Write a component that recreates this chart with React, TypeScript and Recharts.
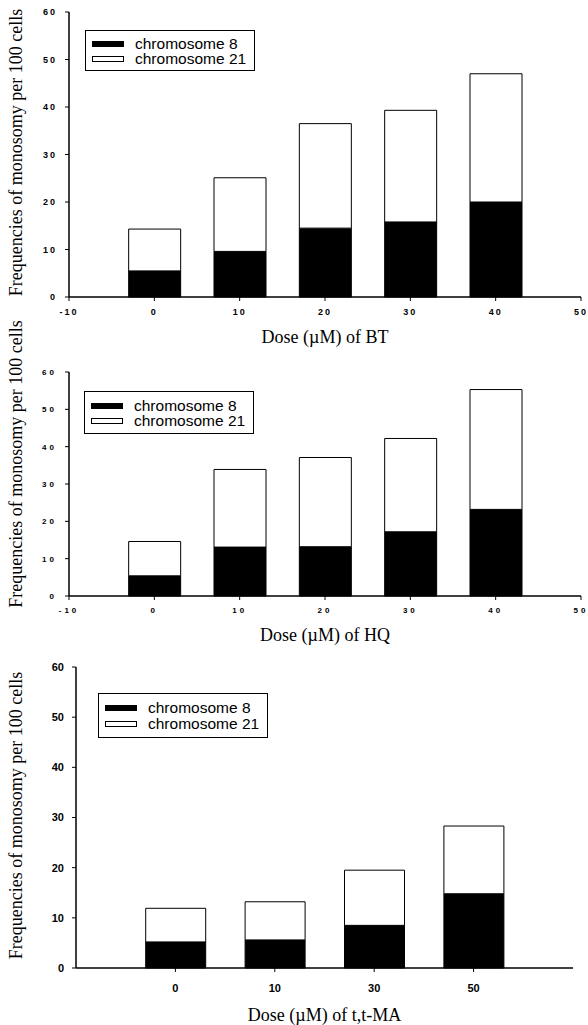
import React from "react";
import { BarChart, Bar, XAxis, YAxis, Legend } from "recharts";

const seriesNames = ["chromosome 8", "chromosome 21"];
const yTicks = [0, 10, 20, 30, 40, 50, 60];
const doseTicks = [-10, 0, 10, 20, 30, 40, 50];

// BT
const btDose = [0, 10, 20, 30, 40];
const btChr8 = [5.5, 9.6, 14.5, 15.8, 20.0];
const btChr21 = [8.8, 15.5, 22.0, 23.5, 27.0];

// HQ
const hqDose = [0, 10, 20, 30, 40];
const hqChr8 = [5.4, 13.1, 13.2, 17.2, 23.2];
const hqChr21 = [9.2, 20.8, 23.9, 25.0, 32.1];

// t,t-MA (categorical doses)
const maDose = ["0", "10", "30", "50"];
const maChr8 = [5.2, 5.6, 8.5, 14.8];
const maChr21 = [6.7, 7.6, 11.0, 13.5];

type Row = { dose: number; chr8: number; chr21: number };

const btData: Row[] = btDose.map((d, i) => ({ dose: d, chr8: btChr8[i], chr21: btChr21[i] }));
const hqData: Row[] = hqDose.map((d, i) => ({ dose: d, chr8: hqChr8[i], chr21: hqChr21[i] }));
// categories sit at 1..n on a 0..n+1 axis
const maData: Row[] = maDose.map((_, i) => ({ dose: i + 1, chr8: maChr8[i], chr21: maChr21[i] }));

const sans = '"Liberation Sans", Arial, sans-serif';
const serif = '"Liberation Serif", "Times New Roman", serif';
const yTitleText = "Frequencies of monosomy per 100 cells";

const legendContent = (lineHeight: number, padTop: number, padBottom: number) => (props: any) => {
  const items = [...(props.payload || [])].sort(
    (a: any, b: any) => seriesNames.indexOf(a.value) - seriesNames.indexOf(b.value)
  );
  return (
    <div
      style={{
        width: 170,
        boxSizing: "border-box",
        border: "1px solid #000",
        background: "#fff",
        padding: `${padTop}px 0 ${padBottom}px 6px`,
        fontFamily: sans,
        fontSize: 15.5,
        lineHeight: `${lineHeight}px`,
        color: "#000",
        textAlign: "left",
      }}
    >
      {items.map((e: any) => (
        <div key={e.value} style={{ display: "flex", alignItems: "center", height: lineHeight }}>
          <span
            style={{
              display: "inline-block",
              width: 32,
              height: 6,
              background: e.color,
              border: "1px solid #000",
              boxSizing: "border-box",
              marginRight: 11,
            }}
          />
          <span>{e.value}</span>
        </div>
      ))}
    </div>
  );
};

// rotated y title, centred on the plot with an optional shift
const yTitle = (shift: number) => (props: any) => {
  const vb = props.viewBox || {};
  const cx = 16;
  const cy = vb.y + vb.height / 2 + shift;
  return (
    <text
      x={cx}
      y={cy}
      transform={`rotate(-90, ${cx}, ${cy})`}
      textAnchor="middle"
      dominantBaseline="central"
      fontFamily={serif}
      fontSize={18}
      fill="#000"
    >
      {yTitleText}
    </text>
  );
};

type ChartProps = {
  data: Row[];
  height: number;
  marginTop: number;
  marginRight: number;
  yWidth: number;
  xHeight: number;
  domain: [number, number];
  xTicks: number[];
  tickFormatter?: (v: number) => string;
  tick: any;
  xTickMargin: number;
  barSize: number;
  xTitle: string;
  titleOffset: number;
  yTitleShift: number;
  legendLeft: number;
  legendTop: number;
  legendLine: number;
  legendPad: [number, number];
};

const MonosomyChart = (p: ChartProps) => (
  <BarChart
    width={588}
    height={p.height}
    data={p.data}
    margin={{ top: p.marginTop, right: p.marginRight, left: 0, bottom: 0 }}
  >
    <XAxis
      dataKey="dose"
      type="number"
      domain={p.domain}
      ticks={p.xTicks}
      allowDataOverflow
      interval={0}
      tickFormatter={p.tickFormatter}
      height={p.xHeight}
      tickSize={4}
      tickMargin={p.xTickMargin}
      axisLine={{ stroke: "#000", strokeWidth: 1.5 }}
      tickLine={{ stroke: "#000" }}
      tick={p.tick}
      label={{
        value: p.xTitle,
        position: "insideBottom",
        offset: p.titleOffset,
        style: { fontFamily: serif, fontSize: 18, fill: "#000" },
      }}
    />
    <XAxis
      xAxisId="top"
      orientation="top"
      type="number"
      domain={p.domain}
      allowDataOverflow
      height={0}
      tick={false}
      tickLine={false}
      axisLine={{ stroke: "#000", strokeWidth: 1.5 }}
    />
    <YAxis
      domain={[0, 60]}
      ticks={yTicks}
      interval={0}
      width={p.yWidth}
      tickSize={4}
      tickMargin={8}
      axisLine={{ stroke: "#000", strokeWidth: 1.5 }}
      tickLine={{ stroke: "#000" }}
      tick={p.tick}
      label={{ content: yTitle(p.yTitleShift) }}
    />
    <YAxis
      yAxisId="right"
      orientation="right"
      domain={[0, 60]}
      width={0}
      tick={false}
      tickLine={false}
      axisLine={{ stroke: "#000", strokeWidth: 1.5 }}
    />
    <Legend
      layout="vertical"
      align="center"
      verticalAlign="middle"
      content={legendContent(p.legendLine, p.legendPad[0], p.legendPad[1])}
      wrapperStyle={{ left: p.legendLeft, top: p.legendTop, width: 170, height: "auto" }}
    />
    <Bar
      dataKey="chr8"
      name={seriesNames[0]}
      stackId="a"
      fill="#000"
      stroke="#000"
      strokeWidth={1}
      barSize={p.barSize}
      isAnimationActive={false}
    />
    <Bar
      dataKey="chr21"
      name={seriesNames[1]}
      stackId="a"
      fill="#fff"
      stroke="#000"
      strokeWidth={1}
      barSize={p.barSize}
      isAnimationActive={false}
    />
  </BarChart>
);

const smallTick1 = { fontFamily: sans, fontSize: 9, fontWeight: "bold", fill: "#000", letterSpacing: 2 };
const smallTick2 = { fontFamily: sans, fontSize: 8, fontWeight: "bold", fill: "#000", letterSpacing: 3 };
const tick3 = { fontFamily: sans, fontSize: 11, fontWeight: "bold", fill: "#000" };

export default function App() {
  return (
    <div style={{ position: "absolute", left: 0, top: 0, width: 588, height: 1025, background: "#fff" }}>
      <div style={{ position: "absolute", left: 0, top: 0 }}>
        <MonosomyChart
          data={btData}
          height={350}
          marginTop={12}
          marginRight={7}
          yWidth={69}
          xHeight={53}
          domain={[-10, 50]}
          xTicks={doseTicks}
          tick={smallTick1}
          xTickMargin={8}
          barSize={52}
          xTitle="Dose (µM) of BT"
          titleOffset={7}
          yTitleShift={-2}
          legendLeft={85}
          legendTop={30}
          legendLine={15}
          legendPad={[5, 4]}
        />
      </div>
      <div style={{ position: "absolute", left: 0, top: 320 }}>
        <MonosomyChart
          data={hqData}
          height={330}
          marginTop={52}
          marginRight={7}
          yWidth={69}
          xHeight={54}
          domain={[-10, 50]}
          xTicks={doseTicks}
          tick={smallTick2}
          xTickMargin={7}
          barSize={52}
          xTitle="Dose (µM) of HQ"
          titleOffset={9}
          yTitleShift={-20}
          legendLeft={84}
          legendTop={71}
          legendLine={15}
          legendPad={[6, 5]}
        />
      </div>
      <div style={{ position: "absolute", left: 0, top: 650 }}>
        <MonosomyChart
          data={maData}
          height={375}
          marginTop={17}
          marginRight={15}
          yWidth={76}
          xHeight={57}
          domain={[0, maDose.length + 1]}
          xTicks={maData.map((r) => r.dose)}
          tickFormatter={(v: number) => maDose[v - 1] ?? ""}
          tick={tick3}
          xTickMargin={12}
          barSize={60}
          xTitle="Dose (µM) of t,t-MA"
          titleOffset={4}
          yTitleShift={-2}
          legendLeft={98}
          legendTop={43}
          legendLine={16}
          legendPad={[6, 5]}
        />
      </div>
    </div>
  );
}
